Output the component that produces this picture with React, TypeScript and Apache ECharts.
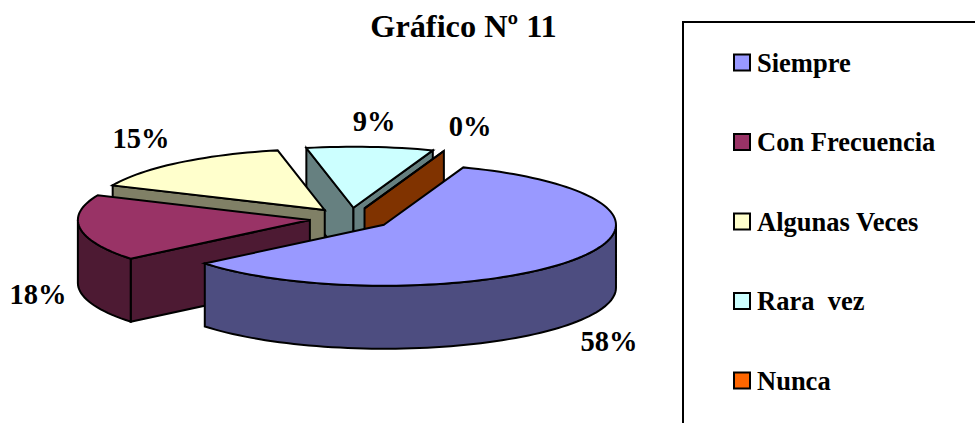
import React, { useEffect, useRef } from "react";
import * as echarts from "echarts";

const TITLE = "Gráfico Nº 11";
const categories = ["Siempre", "Con Frecuencia", "Algunas Veces", "Rara  vez", "Nunca"];
const values = [58.49, 17.6, 15.1, 8.81, 0];
const topColors = ["#9999FF", "#993366", "#FFFFCC", "#CCFFFF", "#FF6600"];
const sideColors = ["#4D4D80", "#4D1A33", "#808066", "#668080", "#803300"];
const labelCenters = [[609, 341], [38, 294], [141, 138], [374, 121], [470, 126]];
const paintOrder = [3, 4, 2, 1, 0];

const FONT = "'Liberation Serif', 'Times New Roman', serif";
const CX = 350.5;
const CY = 218.5;
const RX = 232;
const RY = 61;
const DEPTH = 63;
const EXPLODE = 41;
const START_DEG = 20;

const total = values.reduce((s, v) => s + v, 0);
const rad = (d: number) => (d * Math.PI) / 180;

function sliceAngles(i: number) {
  const before = values.slice(0, i).reduce((s, v) => s + v, 0);
  const s = START_DEG + (before / total) * 360;
  const e = s + (values[i] / total) * 360;
  return [s, e];
}

function renderSlice(i: number) {
  const [s, e] = sliceAngles(i);
  const mid = (s + e) / 2;
  const ox = CX + EXPLODE * Math.sin(rad(mid));
  const oy = CY - EXPLODE * (RY / RX) * Math.cos(rad(mid));
  const pt = (deg: number, dz = 0): number[] => [
    ox + RX * Math.sin(rad(deg)),
    oy - RY * Math.cos(rad(deg)) + dz,
  ];
  const arc = (a: number, b: number, dz = 0) => {
    const n = Math.max(1, Math.ceil(Math.abs(b - a) / 2));
    const out: number[][] = [];
    for (let k = 0; k <= n; k++) out.push(pt(a + ((b - a) * k) / n, dz));
    return out;
  };
  const line = { stroke: "#000", lineWidth: 2, lineJoin: "miter" };
  const side = { ...line, fill: sideColors[i] };
  const children: any[] = [];
  const face = (deg: number) => {
    children.push({
      type: "polygon",
      z2: children.length,
      shape: { points: [[ox, oy], pt(deg), pt(deg, DEPTH), [ox, oy + DEPTH]] },
      style: side,
    });
  };
  if (Math.sin(rad(s)) < 0) face(s);
  if (Math.sin(rad(e)) > 0) face(e);
  const w0 = Math.max(s, 90);
  const w1 = Math.min(e, 270);
  if (w1 > w0) {
    children.push({
      type: "polygon",
      z2: children.length,
      shape: { points: [...arc(w0, w1), ...arc(w1, w0, DEPTH)] },
      style: side,
    });
  }
  children.push({
    type: "polygon",
    z2: children.length,
    shape: { points: [[ox, oy], ...arc(s, e)] },
    style: { ...line, fill: topColors[i] },
  });
  children.push({
    type: "text",
    z2: children.length,
    x: labelCenters[i][0],
    y: labelCenters[i][1],
    style: {
      text: `${Math.round(values[i])}%`,
      font: `bold 28.5px ${FONT}`,
      fill: "#000",
      textAlign: "center",
      textVerticalAlign: "middle",
    },
  });
  return { type: "group", children };
}

export default function App() {
  const ref = useRef<HTMLDivElement>(null);
  useEffect(() => {
    const chart = echarts.init(ref.current!, null, { renderer: "svg" });
    chart.setOption({
      animation: false,
      backgroundColor: "#fff",
      title: {
        text: TITLE,
        left: 458.5,
        top: 5,
        textAlign: "center",
        textStyle: { fontFamily: FONT, fontWeight: "bold", fontSize: 32.3, color: "#000" },
      },
      legend: {
        orient: "vertical",
        left: 728,
        top: 44,
        itemWidth: 16,
        itemHeight: 16,
        itemGap: 52.5,
        icon: "rect",
        selectedMode: false,
        data: categories.map((name, i) => ({
          name,
          itemStyle: { color: topColors[i], borderColor: "#000", borderWidth: 2 },
        })),
        textStyle: {
          fontFamily: FONT,
          fontWeight: "bold",
          fontSize: 26.5,
          color: "#000",
          padding: [0, 0, 0, 2],
        },
      },
      graphic: [
        {
          type: "rect",
          z: 0,
          shape: { x: 683, y: 22, width: 400, height: 500 },
          style: { fill: "transparent", stroke: "#000", lineWidth: 2 },
        },
      ],
      series: categories.map((name, i) => ({
        type: "custom",
        name,
        coordinateSystem: "none",
        z: 2 + paintOrder.indexOf(i),
        silent: true,
        itemStyle: { color: topColors[i] },
        data: [values[i]],
        renderItem: () => renderSlice(i),
      })),
    });
    return () => chart.dispose();
  }, []);
  return (
    <div
      ref={ref}
      style={{ position: "fixed", left: 0, top: 0, width: 975, height: 423, background: "#fff" }}
    />
  );
}
